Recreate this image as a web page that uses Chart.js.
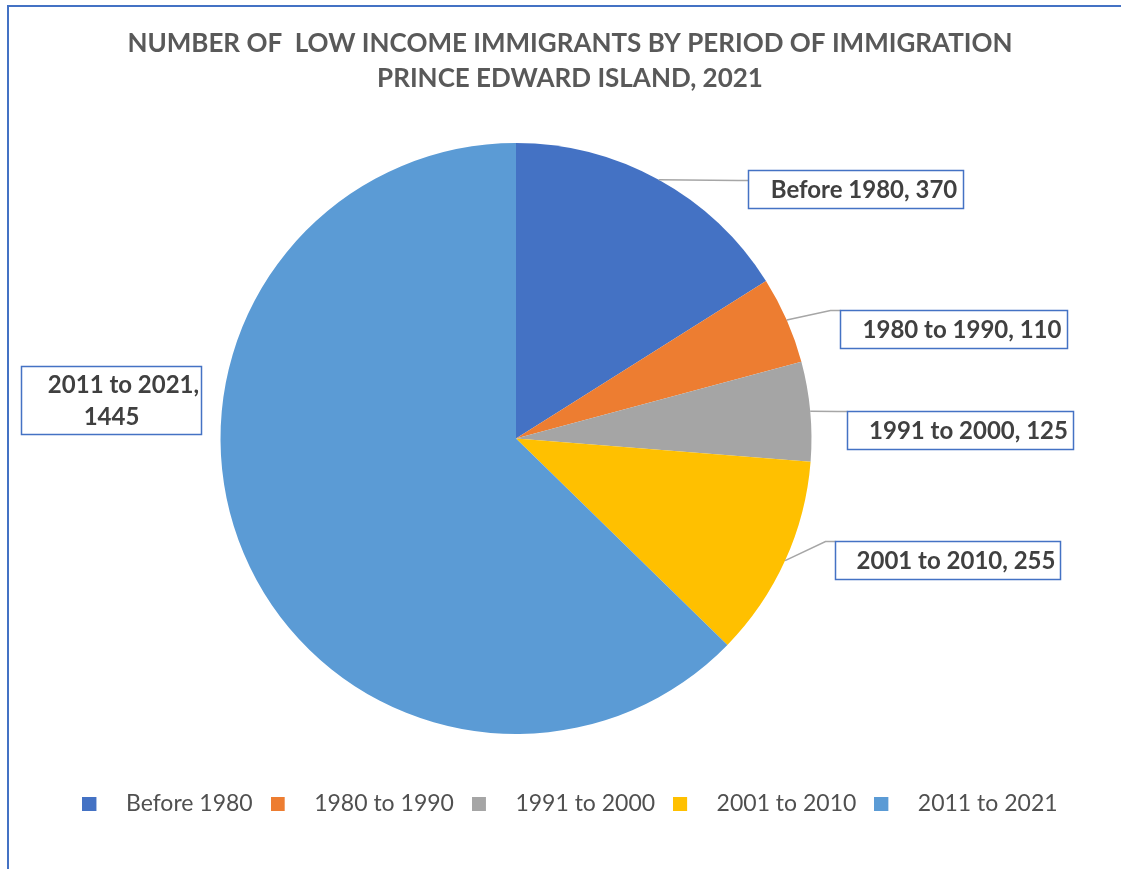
<!DOCTYPE html>
<html>
<head>
<meta charset="utf-8">
<script src="https://cdn.jsdelivr.net/npm/chart.js@4.4.0/dist/chart.umd.min.js"></script>
<style>
  html, body { margin: 0; padding: 0; background: #fff; overflow: hidden; }
  #frame { position: absolute; left: 7px; top: 5px; width: 1200px; height: 1000px;
           border-left: 2px solid #4472c4; border-top: 2px solid #4472c4; }
  #wrap { position: absolute; left: 0; top: 0; width: 1121px; height: 869px; }
</style>
</head>
<body>
<div id="frame"></div>
<div id="wrap"><canvas id="pie"></canvas></div>
<script>
const periods = ['Before 1980', '1980 to 1990', '1991 to 2000', '2001 to 2010', '2011 to 2021'];
const immigrants = [370, 110, 125, 255, 1445];
const sliceColors = ['#4472c4', '#ed7d31', '#a5a5a5', '#ffc000', '#5b9bd5'];
const titleLines = ['NUMBER OF  LOW INCOME IMMIGRANTS BY PERIOD OF IMMIGRATION', 'PRINCE EDWARD ISLAND, 2021'];

// Callout boxes, placed relative to the point where each slice's middle meets the rim
const callouts = [
    { dx: 89, dy: -10, w: 215, h: 38, anchor: 10 },
    { dx: 53, dy: -10, w: 227, h: 38, anchor: 0 },
    { dx: 37, dy: 0, w: 226, h: 38, anchor: 0 },
    { dx: 50, dy: -20, w: 225, h: 38, anchor: 0 },
    { dx: -223, dy: -187, w: 180, h: 68, wrap: true, noLeader: true }
];

// Empty box in the layout that keeps the pie left of the page centre
function spacer(position, size) {
    return {
        position: position,
        weight: 0,
        fullSize: false,
        options: {},
        isHorizontal() { return position === 'top' || position === 'bottom'; },
        update(maxWidth, maxHeight) {
            if (this.isHorizontal()) { this.width = maxWidth; this.height = size; }
            else { this.width = size; this.height = maxHeight; }
        },
        draw() {}
    };
}

const spacerPlugin = {
    id: 'spacers',
    beforeInit(chart) {
        Chart.layouts.addBox(chart, spacer('right', 108));
        Chart.layouts.addBox(chart, spacer('bottom', 40));
    }
};

// Legend swatch: a small square with room to its right before the text
function swatch(color) {
    const c = document.createElement('canvas');
    c.width = 32;
    c.height = 14;
    const g = c.getContext('2d');
    g.fillStyle = color;
    g.fillRect(0, 0, 14, 14);
    return c;
}

const calloutPlugin = {
    id: 'callouts',
    afterDatasetsDraw(chart) {
        const ctx = chart.ctx;
        const arcs = chart.getDatasetMeta(0).data;
        ctx.save();
        ctx.font = 'bold 24px Lato';
        ctx.textAlign = 'center';
        ctx.textBaseline = 'middle';
        arcs.forEach((arc, i) => {
            const c = callouts[i];
            const p = arc.getProps(['x', 'y', 'startAngle', 'endAngle', 'outerRadius'], true);
            const mid = (p.startAngle + p.endAngle) / 2;
            const ex = p.x + Math.cos(mid) * p.outerRadius;
            const ey = p.y + Math.sin(mid) * p.outerRadius;
            const bx = Math.round(ex + c.dx) + 0.5;
            const by = Math.round(ey + c.dy) + 0.5;

            if (!c.noLeader) {
                ctx.strokeStyle = '#a6a6a6';
                ctx.lineWidth = 1.5;
                ctx.beginPath();
                ctx.moveTo(ex, ey);
                ctx.lineTo(bx - 10, by + c.anchor);
                ctx.lineTo(bx, by + c.anchor);
                ctx.stroke();
            }

            ctx.fillStyle = '#ffffff';
            ctx.fillRect(bx, by, c.w, c.h);
            ctx.strokeStyle = '#4472c4';
            ctx.lineWidth = 1.5;
            ctx.strokeRect(bx, by, c.w, c.h);

            ctx.fillStyle = '#404040';
            const cx = bx + c.w / 2 + 8;
            const cy = by + c.h / 2 + 1;
            if (c.wrap) {
                ctx.fillText(periods[i] + ',', cx + 4, cy - 16);
                ctx.fillText(String(immigrants[i]), cx - 8, cy + 16);
            } else {
                ctx.fillText(periods[i] + ', ' + immigrants[i], cx, cy);
            }
        });
        ctx.restore();
    }
};

const defaultLabels = Chart.overrides.doughnut.plugins.legend.labels.generateLabels;

new Chart(document.getElementById('pie'), {
    type: 'pie',
    data: {
        labels: periods,
        datasets: [{
            data: immigrants,
            backgroundColor: sliceColors,
            borderWidth: 0
        }]
    },
    options: {
        responsive: true,
        maintainAspectRatio: false,
        animation: false,
        layout: {
            padding: { left: 20, right: 1, top: 0, bottom: 44 }
        },
        plugins: {
            title: {
                display: true,
                text: titleLines,
                color: '#595959',
                font: { family: 'Lato', size: 26, weight: 'bold', lineHeight: 35 / 26 },
                padding: { top: 26.5, bottom: 46.5 }
            },
            legend: {
                position: 'bottom',
                labels: {
                    usePointStyle: true,
                    pointStyleWidth: 32,
                    boxHeight: 14,
                    padding: 18,
                    color: '#505050',
                    font: { family: 'Lato', size: 23 },
                    generateLabels(chart) {
                        return defaultLabels(chart).map((item, i) => {
                            item.pointStyle = swatch(sliceColors[i]);
                            return item;
                        });
                    }
                }
            },
            tooltip: { enabled: false }
        }
    },
    plugins: [spacerPlugin, calloutPlugin]
});
</script>
</body>
</html>
